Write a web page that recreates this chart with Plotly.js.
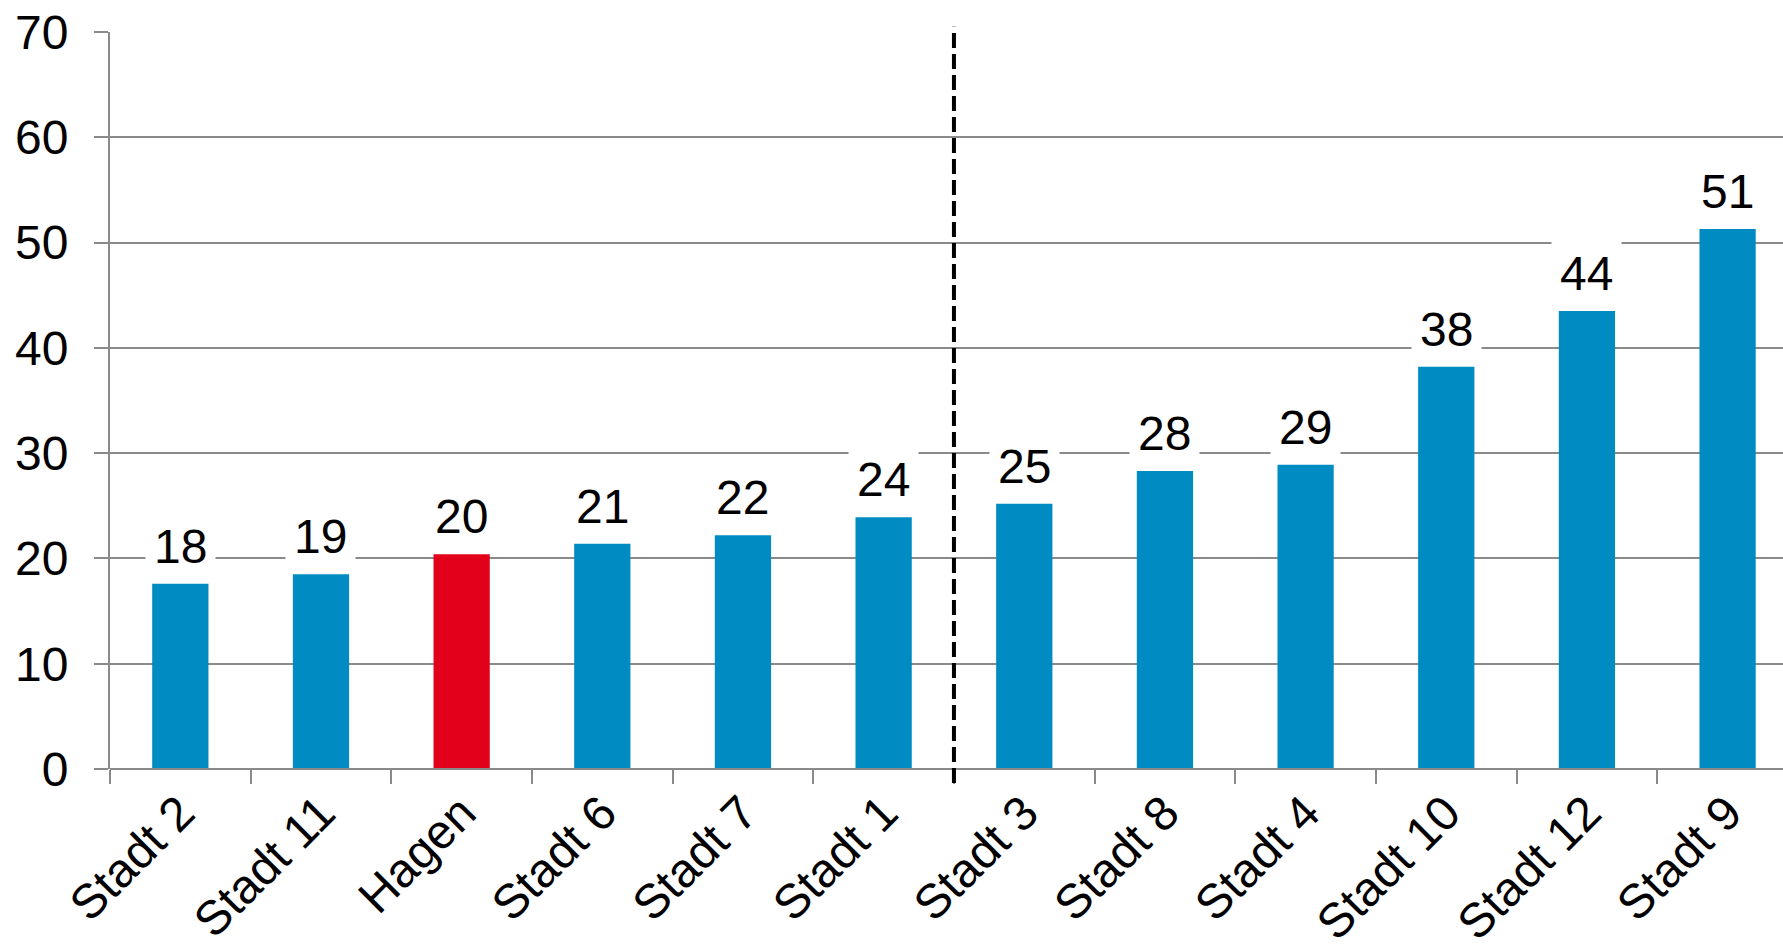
<!DOCTYPE html>
<html>
<head>
<meta charset="utf-8">
<script src="https://cdn.plot.ly/plotly-3.0.1.min.js"></script>
<style>html,body{margin:0;padding:0;background:#fff;}#chart{width:1783px;height:949px;}</style>
</head>
<body>
<div id="chart"></div>
<script>
const categories = ["Stadt 2", "Stadt 11", "Hagen", "Stadt 6", "Stadt 7", "Stadt 1", "Stadt 3", "Stadt 8", "Stadt 4", "Stadt 10", "Stadt 12", "Stadt 9"];
const values = [17.6, 18.5, 20.4, 21.4, 22.2, 23.9, 25.2, 28.3, 28.9, 38.2, 43.5, 51.3];
const highlight = "Hagen";
const dividerAfter = "Stadt 1";

const BLUE = "#008BC2";
const RED = "#E2001A";
const FONT = "Liberation Sans, Arial, sans-serif";
const FS = 48;

const colors = categories.map(c => c === highlight ? RED : BLUE);
const idx = categories.map((c, i) => i);

const trace = {
  type: "bar",
  x: idx,
  y: values,
  width: 0.4,
  marker: {color: colors, line: {width: 0}},
  hoverinfo: "skip"
};

const annotations = values.map((v, i) => ({
  x: i, y: v, xref: "x", yref: "y",
  text: String(Math.round(v)),
  showarrow: false,
  yanchor: "bottom",
  yshift: 2,
  bgcolor: "#ffffff",
  borderpad: 8,
  font: {family: FONT, size: FS, color: "#000"}
}));

const divIdx = categories.indexOf(dividerAfter) + 0.5;

const layout = {
  width: 1783, height: 949,
  margin: {l: 110, r: 0, t: 32, b: 180},
  paper_bgcolor: "#fff", plot_bgcolor: "#fff",
  showlegend: false,
  bargap: 0.6,
  xaxis: {
    type: "linear",
    range: [-0.5, 11.394],
    tickvals: idx,
    ticktext: categories,
    tickangle: -45,
    showgrid: false,
    zeroline: false,
    showline: false,
    ticks: "",
    ticklabelstandoff: 5,
    tickfont: {family: FONT, size: FS, color: "#000"},
    fixedrange: true
  },
  xaxis2: {
    overlaying: "x", matches: "x",
    range: [-0.5, 11.394],
    tickvals: idx.map(i => i - 0.5),
    showticklabels: false,
    ticks: "outside", ticklen: 14, tickwidth: 2, tickcolor: "#8a8a8a",
    showgrid: false, zeroline: false, showline: false
  },
  yaxis: {
    range: [0, 70],
    tickvals: [0, 10, 20, 30, 40, 50, 60, 70],
    ticks: "outside", ticklen: 14, tickwidth: 2, tickcolor: "#8a8a8a",
    showgrid: true, gridcolor: "#8a8a8a", gridwidth: 2,
    zeroline: false,
    showline: true, linecolor: "#8a8a8a", linewidth: 2,
    tickfont: {family: FONT, size: FS, color: "#000"},
    ticklabelstandoff: 16,
    fixedrange: true
  },
  shapes: [
    {type: "line", xref: "x", yref: "paper", x0: -0.5, x1: 11.394, y0: 0, y1: 0,
     line: {color: "#8a8a8a", width: 2}, layer: "above"},
    {type: "line", xref: "x", yref: "paper", x0: divIdx, x1: divIdx, y0: -0.019, y1: 1.007,
     line: {color: "#000", width: 4, dash: "15px,6px"}, layer: "above"}
  ],
  annotations: annotations
};

const dummy = {type: "scatter", x: [0], y: [0], xaxis: "x2", yaxis: "y", mode: "markers", marker: {opacity: 0}, hoverinfo: "skip"};

Plotly.newPlot("chart", [trace, dummy], layout, {staticPlot: true});
</script>
</body>
</html>
